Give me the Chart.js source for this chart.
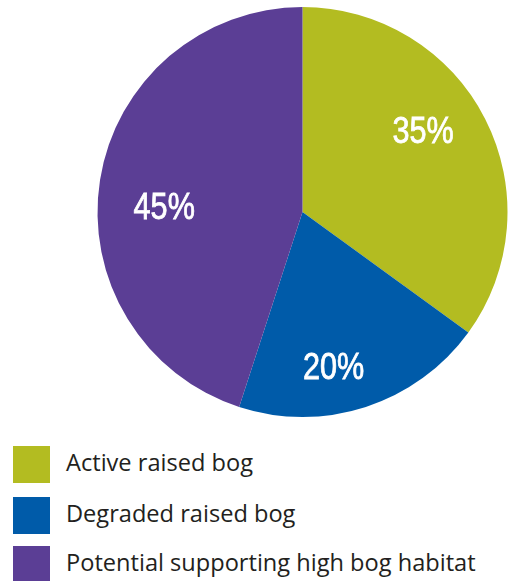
<!DOCTYPE html>
<html>
<head>
<meta charset="utf-8">
<script src="https://cdn.jsdelivr.net/npm/chart.js@4.4.1/dist/chart.umd.min.js"></script>
<style>
  body { margin: 0; background: #fff; width: 508px; height: 581px; position: relative; overflow: hidden; }
  #pie { position: absolute; left: 0; top: 0; }
  .legend-row { position: absolute; left: 13px; height: 37px; display: flex; align-items: center; }
  .legend-box { width: 37px; height: 37px; flex: none; }
  .legend-text { margin-left: 16px; font: 23.6px "Open Sans", sans-serif; color: #231f20; white-space: nowrap; position: relative; top: -3px; }
</style>
</head>
<body>
<canvas id="pie" width="508" height="420"></canvas>
<div id="legend"></div>
<script>
// ── Data ──────────────────────────────────────────────────
const categories = ['Active raised bog', 'Degraded raised bog', 'Potential supporting high bog habitat'];
const shares = [35, 20, 45];
const sliceColors = ['#b3bc21', '#005ba9', '#5b3e95'];

// label placement tweaks (angle shift in degrees, radius fraction)
const labelNudge = [
    { da: -7.1, r: 0.71 },
    { da: 6.6, r: 0.77 },
    { da: -6.9, r: 0.675 }
];

// ── Percentage labels drawn on the slices ─────────────────
const sliceLabels = {
    id: 'sliceLabels',
    afterDatasetsDraw(chart) {
        const ctx = chart.ctx;
        const arcs = chart.getDatasetMeta(0).data;
        ctx.save();
        ctx.fillStyle = '#ffffff';
        ctx.strokeStyle = '#ffffff';
        ctx.lineWidth = 0.8;
        ctx.font = '36px "Liberation Sans Narrow", sans-serif';
        ctx.textAlign = 'center';
        ctx.textBaseline = 'alphabetic';
        arcs.forEach((arc, i) => {
            const p = arc.getProps(['x', 'y', 'startAngle', 'endAngle', 'outerRadius'], true);
            const a = (p.startAngle + p.endAngle) / 2 + labelNudge[i].da * Math.PI / 180;
            const r = p.outerRadius * labelNudge[i].r;
            ctx.save();
            ctx.translate(p.x + Math.cos(a) * r, p.y + Math.sin(a) * r);
            ctx.scale(0.85, 1);
            ctx.fillText(shares[i] + '%', 0, 12.5);
            ctx.strokeText(shares[i] + '%', 0, 12.5);
            ctx.restore();
        });
        ctx.restore();
    }
};

new Chart(document.getElementById('pie'), {
    type: 'pie',
    data: {
        labels: categories,
        datasets: [{
            data: shares,
            backgroundColor: sliceColors,
            borderWidth: 0
        }]
    },
    options: {
        responsive: false,
        animation: false,
        layout: { padding: { top: 7, left: 97, right: 0, bottom: 3 } },
        plugins: {
            legend: { display: false },
            tooltip: { enabled: false }
        }
    },
    plugins: [sliceLabels]
});

// ── Legend ────────────────────────────────────────────────
const legendTops = [446, 497, 546];
const legend = document.getElementById('legend');
categories.forEach((name, i) => {
    const row = document.createElement('div');
    row.className = 'legend-row';
    row.style.top = legendTops[i] + 'px';
    row.innerHTML = '<div class="legend-box" style="background:' + sliceColors[i] + '"></div>' +
                    '<span class="legend-text">' + name + '</span>';
    legend.appendChild(row);
});
</script>
</body>
</html>
